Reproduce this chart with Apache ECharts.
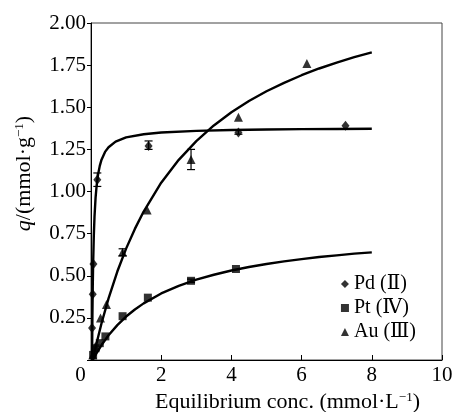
<!DOCTYPE html>
<html>
<head>
<meta charset="utf-8">
<script src="https://cdn.jsdelivr.net/npm/echarts@6/dist/echarts.min.js"></script>
<style>
  html, body { margin: 0; padding: 0; background: #fff; }
  #chart { width: 455px; height: 412px; }
</style>
</head>
<body>
<div id="chart"></div>
<script>
// Tick labels
const xTicks = [0, 2, 4, 6, 8, 10];
const yTicks = [0, 0.25, 0.5, 0.75, 1.0, 1.25, 1.5, 1.75, 2.0];

// Measured points [conc, q]
const pdPoints = [[0.03, 0.19], [0.05, 0.39], [0.07, 0.57], [0.18, 1.07], [1.64, 1.27], [4.2, 1.35], [7.25, 1.39]];
const ptPoints = [[0.06, 0.03], [0.13, 0.07], [0.25, 0.1], [0.41, 0.14], [0.9, 0.26], [1.62, 0.37], [2.85, 0.47], [4.13, 0.54]];
const auPoints = [[0.05, 0.03], [0.12, 0.08], [0.27, 0.25], [0.44, 0.33], [0.9, 0.64], [1.6, 0.89], [2.85, 1.19], [4.2, 1.44], [6.15, 1.76]];

// Error bars [conc, low, high]
const errBars = [[0.18, 1.03, 1.11], [1.64, 1.25, 1.30], [2.85, 1.13, 1.25], [4.2, 1.34, 1.365], [0.9, 0.62, 0.66], [2.85, 0.46, 0.48]];

// Fitted curves
const pdCurve = [[0.03, 0], [0.04, 0.26], [0.05, 0.435], [0.06, 0.563], [0.08, 0.738], [0.1, 0.851], [0.13, 0.962], [0.16, 1.034], [0.2, 1.099], [0.25, 1.152], [0.3, 1.189], [0.4, 1.235], [0.5, 1.263], [0.7, 1.296], [1.0, 1.321], [1.5, 1.34], [2, 1.35], [3, 1.36], [4, 1.365], [5, 1.368], [6, 1.37], [7, 1.371], [8, 1.372]];
const ptCurve = [[0.05, 0], [0.15, 0.038], [0.3, 0.089], [0.5, 0.147], [0.75, 0.207], [1.0, 0.258], [1.25, 0.3], [1.5, 0.336], [2, 0.395], [2.5, 0.44], [3, 0.477], [3.5, 0.506], [4, 0.531], [4.5, 0.552], [5, 0.57], [5.5, 0.585], [6, 0.599], [6.5, 0.611], [7, 0.621], [7.5, 0.631], [8, 0.639]];
const auCurve = [[0.05, 0], [0.15, 0.092], [0.3, 0.218], [0.5, 0.366], [0.75, 0.525], [1.0, 0.661], [1.25, 0.778], [1.5, 0.881], [2, 1.052], [2.5, 1.188], [3, 1.299], [3.5, 1.392], [4, 1.47], [4.5, 1.537], [5, 1.595], [5.5, 1.645], [6, 1.69], [6.5, 1.73], [7, 1.765], [7.5, 1.797], [8, 1.826]];

const seriesNames = ['Pd (Ⅱ)', 'Pt (Ⅳ)', 'Au (Ⅲ)'];

const serif = '"Liberation Serif", "DejaVu Serif", serif';

function curve(data) {
  return {
    type: 'line', data: data, smooth: false, showSymbol: false,
    lineStyle: { color: '#000', width: 2.4, join: 'round' }, silent: true, z: 2
  };
}

function dots(name, data, symbol, size) {
  return {
    name: name, type: 'scatter', data: data, symbol: symbol, symbolSize: size,
    itemStyle: { color: '#000' }, z: 3
  };
}

const chart = echarts.init(document.getElementById('chart'));
chart.setOption({
  animation: false,
  grid: {
    left: 91, right: 13, top: 23, bottom: 52, outerBoundsMode: 'none', containLabel: false,
    show: true, borderColor: '#444', borderWidth: 1, backgroundColor: 'transparent'
  },
  legend: {
    data: seriesNames, orient: 'vertical', right: 34, top: 269, itemGap: 4,
    itemWidth: 8, itemHeight: 8,
    textStyle: { fontFamily: serif, fontSize: 20, color: '#000' }
  },
  xAxis: {
    type: 'value', min: 0, max: 10, interval: 2,
    name: 'Equilibrium conc. (mmol·L{s|−1})', nameLocation: 'middle', nameGap: 27,
    nameTextStyle: {
      fontFamily: serif, fontSize: 22, color: '#000', padding: [0, 0, 0, 42],
      rich: { s: { fontSize: 13, verticalAlign: 'top', padding: [0, 0, 10, 0], fontFamily: serif } }
    },
    axisLine: { lineStyle: { color: '#000' } },
    axisTick: { inside: true, length: 5, lineStyle: { color: '#000' } },
    splitLine: { show: false },
    axisLabel: {
      fontFamily: serif, fontSize: 21, color: '#000', margin: 5,
      formatter: v => xTicks.includes(v) ? (v === 0 ? '{z|0}' : String(v)) : '',
      rich: { z: { fontFamily: serif, fontSize: 21, padding: [0, 21, 0, 0] } }
    }
  },
  yAxis: {
    type: 'value', min: 0, max: 2, interval: 0.25,
    name: '{i|q}/(mmol·g{s|−1})', nameLocation: 'middle', nameGap: 55,
    nameTextStyle: {
      fontFamily: serif, fontSize: 22, color: '#000', padding: [0, 0, 0, 36],
      rich: {
        i: { fontStyle: 'italic', fontFamily: serif, fontSize: 22 },
        s: { fontSize: 13, verticalAlign: 'top', padding: [0, 0, 10, 0], fontFamily: serif }
      }
    },
    axisLine: { show: true, lineStyle: { color: '#000' } },
    axisTick: { show: true, inside: false, length: 4, lineStyle: { color: '#000' } },
    splitLine: { show: false },
    axisLabel: {
      fontFamily: serif, fontSize: 21, color: '#000', margin: 5,
      formatter: v => (v === 0 || !yTicks.includes(v)) ? '' : v.toFixed(2)
    }
  },
  series: [
    curve(pdCurve),
    curve(ptCurve),
    curve(auCurve),
    dots(seriesNames[0], pdPoints, 'diamond', [8, 10]),
    dots(seriesNames[1], ptPoints, 'rect', 8),
    dots(seriesNames[2], auPoints, 'triangle', 9),
    {
      type: 'custom', data: errBars, silent: true, z: 4,
      renderItem: function (params, api) {
        const x = api.coord([api.value(0), api.value(1)])[0];
        const lo = api.coord([api.value(0), api.value(1)])[1];
        const hi = api.coord([api.value(0), api.value(2)])[1];
        const st = { stroke: '#000', lineWidth: 1.2 };
        return {
          type: 'group', children: [
            { type: 'line', shape: { x1: x, y1: lo, x2: x, y2: hi }, style: st },
            { type: 'line', shape: { x1: x - 4, y1: lo, x2: x + 4, y2: lo }, style: st },
            { type: 'line', shape: { x1: x - 4, y1: hi, x2: x + 4, y2: hi }, style: st }
          ]
        };
      }
    }
  ]
});
</script>
</body>
</html>
